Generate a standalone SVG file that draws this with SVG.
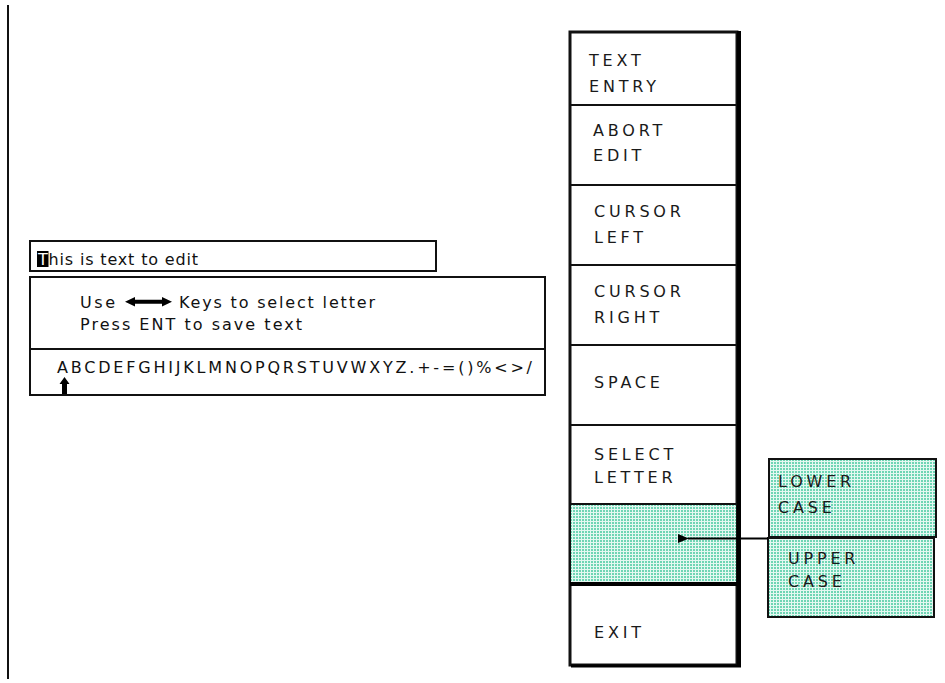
<svg xmlns="http://www.w3.org/2000/svg" width="945" height="683" viewBox="0 0 945 683">
  <style>
    .ln { stroke: #111; fill: none; }
    .txt { font-family: "DejaVu Sans", Verdana, sans-serif; font-size: 16px; fill: #111; }
    .key { font-family: "DejaVu Sans", Verdana, sans-serif; font-size: 16px; fill: #1a1a1a; letter-spacing: 3.8px; }
    .box { fill: #fff; stroke: #111; stroke-width: 2; }
    .shade { fill: url(#dots); stroke: #111; stroke-width: 2; }
  </style>
  <defs>
    <!-- fine dot screen used for the highlighted soft-key and the pop-up choices -->
    <pattern id="dots" width="3" height="3" patternUnits="userSpaceOnUse">
      <rect width="3" height="3" fill="#e4f8f1"/>
      <rect width="2" height="2" fill="#6fd5b4"/>
    </pattern>
    <marker id="head" markerWidth="12" markerHeight="12" refX="1" refY="6" orient="auto" markerUnits="userSpaceOnUse">
      <path d="M11,1.5 L0,6 L11,10.5 Z" fill="#000"/>
    </marker>
  </defs>

  <rect width="945" height="683" fill="#fff"/>

  <!-- page margin rule -->
  <line x1="8" y1="5" x2="8" y2="679" stroke="#111" stroke-width="2"/>

  <!-- text edit display -->
  <g id="edit-line">
    <rect class="box" x="30" y="241" width="406" height="30"/>
    <rect x="37" y="251" width="11.5" height="16" fill="#000"/>
    <text class="txt" x="38" y="265" textLength="160" lengthAdjust="spacing"><tspan fill="#fff">T</tspan>his is text to edit</text>
  </g>

  <g id="edit-panel">
    <rect class="box" x="30" y="277" width="515" height="118"/>
    <line class="ln" x1="30" y1="349" x2="545" y2="349" stroke-width="2"/>
    <text class="txt" x="80" y="308" textLength="35" lengthAdjust="spacing">Use</text>
    <!-- left/right key symbol -->
    <path d="M125,301.8 L135,297 L135,299.8 L162,299.8 L162,297 L172,301.8 L162,306.6 L162,303.8 L135,303.8 L135,306.6 Z" fill="#000"/>
    <text class="txt" x="179" y="308" textLength="196" lengthAdjust="spacing">Keys to select letter</text>
    <text class="txt" x="80" y="330" textLength="222" lengthAdjust="spacing">Press ENT to save text</text>
    <text class="txt" x="57" y="373" textLength="475" lengthAdjust="spacing">ABCDEFGHIJKLMNOPQRSTUVWXYZ.+-=()%&lt;&gt;/</text>
    <!-- letter pointer -->
    <path d="M64.5,377 L69.5,384 L67,384 L67,394 L62,394 L62,384 L59.5,384 Z" fill="#000"/>
  </g>

  <!-- soft-key column -->
  <g id="softkeys">
    <rect x="570" y="32" width="167" height="633" fill="#fff" stroke="#111" stroke-width="3"/>
    <line x1="571" y1="666" x2="741" y2="666" stroke="#000" stroke-width="3"/>
  </g>

  <g id="key-text-entry">
    <text class="key" x="589" y="66">TEXT</text>
    <text class="key" x="589" y="92">ENTRY</text>
    <line class="ln" x1="570" y1="105" x2="737" y2="105" stroke-width="2"/>
  </g>
  <g id="key-abort-edit">
    <text class="key" x="593" y="136">ABORT</text>
    <text class="key" x="593" y="161">EDIT</text>
    <line class="ln" x1="570" y1="185" x2="737" y2="185" stroke-width="2"/>
  </g>
  <g id="key-cursor-left">
    <text class="key" x="594" y="217">CURSOR</text>
    <text class="key" x="594" y="243">LEFT</text>
    <line class="ln" x1="570" y1="265" x2="737" y2="265" stroke-width="2"/>
  </g>
  <g id="key-cursor-right">
    <text class="key" x="594" y="297">CURSOR</text>
    <text class="key" x="594" y="323">RIGHT</text>
    <line class="ln" x1="570" y1="345" x2="737" y2="345" stroke-width="2"/>
  </g>
  <g id="key-space">
    <text class="key" x="594" y="388">SPACE</text>
    <line class="ln" x1="570" y1="425" x2="737" y2="425" stroke-width="2"/>
  </g>
  <g id="key-select-letter">
    <text class="key" x="594" y="460">SELECT</text>
    <text class="key" x="594" y="483">LETTER</text>
  </g>
  <g id="key-case">
    <rect class="shade" x="570" y="504" width="167" height="80"/>
    <line x1="570" y1="584" x2="739" y2="584" stroke="#000" stroke-width="4"/>
  </g>
  <g id="key-exit">
    <text class="key" x="594" y="638">EXIT</text>
  </g>
  <!-- heavy right edge of the soft-key column -->
  <line x1="739" y1="31" x2="739" y2="667" stroke="#000" stroke-width="4"/>

  <!-- case choices -->
  <g id="lower-case">
    <rect class="shade" x="769" y="459" width="167" height="78"/>
    <text class="key" x="778" y="487">LOWER</text>
    <text class="key" x="778" y="513">CASE</text>
  </g>
  <g id="upper-case">
    <rect class="shade" x="768" y="538" width="166" height="79"/>
    <text class="key" x="788" y="564">UPPER</text>
    <text class="key" x="788" y="587">CASE</text>
  </g>

  <g id="connectors">
    <line x1="768" y1="538.5" x2="688" y2="538.5" stroke="#000" stroke-width="2" marker-end="url(#head)"/>
  </g>
</svg>
